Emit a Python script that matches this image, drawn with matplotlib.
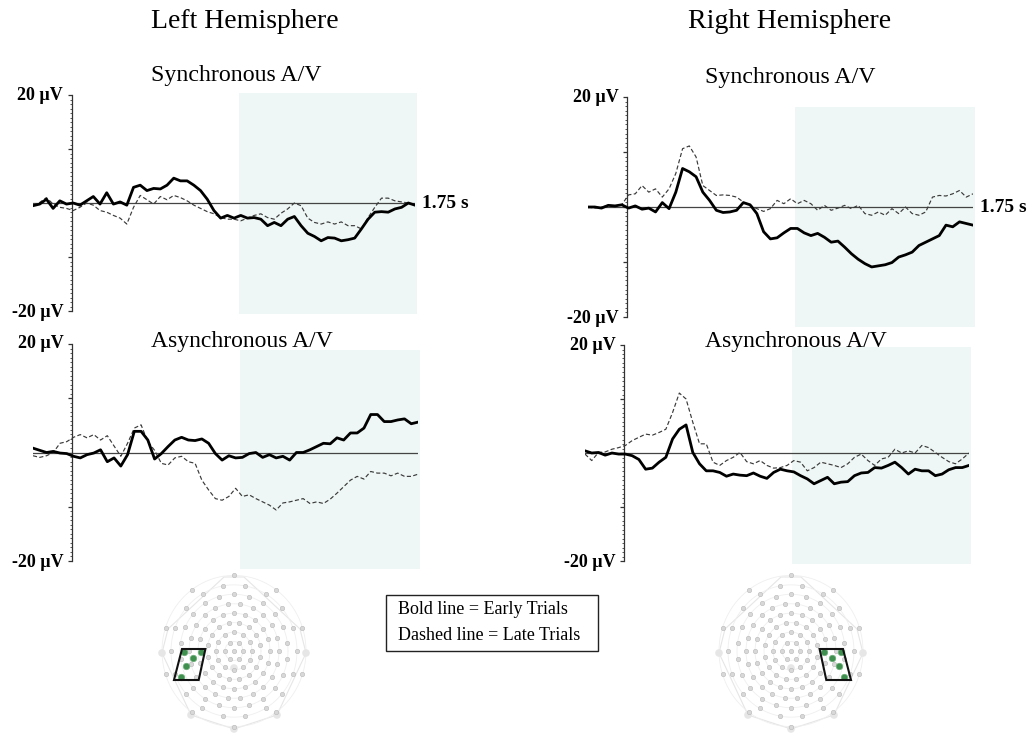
import numpy as np
import matplotlib
matplotlib.use("Agg")
import matplotlib.pyplot as plt
from matplotlib.patches import Rectangle, Polygon
from matplotlib.ticker import MultipleLocator

plt.rcParams['font.family'] = ['Liberation Serif', 'DejaVu Serif']

W, H = 1029, 733

# time axis in seconds, -200 ms baseline to 1.75 s
times = np.linspace(-0.2, 1.75, 58)

# left hemisphere, synchronous A/V (uV)
tl_early = [-0.5, -0.2, 0.7, -1.0, 0.4, -0.2, 0.0, -0.4, 0.4, 1.2,
            -0.2, 1.9, -0.2, 0.2, -0.4, 2.9, 3.3, 2.3, 2.7, 2.6,
            3.3, 4.6, 4.1, 4.1, 3.3, 2.3, 0.7, -1.4, -2.8, -2.3,
            -2.8, -2.3, -2.8, -2.7, -3.0, -4.2, -3.6, -4.2, -3.0, -2.5,
            -4.2, -5.6, -6.2, -7.0, -6.4, -6.5, -7.0, -6.8, -6.5, -4.8,
            -3.0, -1.7, -1.6, -1.7, -1.1, -0.8, 0.0, -0.4]
tl_late = [-0.4, 0.1, 1.0, -0.2, -0.8, -1.0, -1.4, -0.8, 0.0, -0.4,
           -1.4, -1.7, -2.3, -2.8, -3.9, -0.8, 1.4, 0.6, -0.2, 1.2,
           0.6, 1.4, 1.0, 0.4, -0.4, -1.0, -1.6, -2.0, -2.7, -3.0,
           -3.0, -3.3, -2.8, -2.3, -2.0, -2.7, -3.0, -1.9, -1.1, 0.0,
           -0.5, -2.8, -3.6, -3.9, -3.5, -3.9, -3.5, -4.2, -4.2, -4.8,
           -2.7, -0.8, 0.9, 0.9, 0.4, 0.2, 0.0, -0.4]

# right hemisphere, synchronous A/V
tr_early = [0.0, 0.0, -0.2, 0.3, 0.2, 0.4, -0.2, 0.2, -0.4, -0.2,
            -0.9, 0.8, -0.3, 2.7, 7.0, 6.4, 5.5, 2.7, 1.2, -0.6,
            -1.0, -0.9, -0.6, 0.8, 0.4, -1.2, -4.5, -5.8, -5.6, -4.7,
            -3.9, -3.9, -4.7, -5.2, -4.8, -5.5, -6.4, -6.2, -7.3, -8.5,
            -9.5, -10.3, -10.9, -10.7, -10.5, -10.1, -9.1, -8.7, -8.2, -7.0,
            -6.4, -5.8, -5.2, -3.3, -3.6, -2.7, -3.0, -3.3]
tr_late = [0.0, -0.2, 0.0, 0.3, 0.0, 0.4, 2.2, 2.4, 3.9, 2.7,
           3.3, 1.8, 3.3, 6.1, 10.6, 11.1, 9.1, 3.9, 3.0, 2.1,
           2.2, 2.1, 1.8, 0.9, 0.3, -0.3, -0.8, -0.3, 1.2, 0.6,
           1.5, 0.6, 1.2, 0.6, -0.6, 0.3, -0.6, -0.2, 0.3, -0.3,
           0.3, -1.2, -1.5, -0.9, -1.5, -0.3, -1.2, 0.0, -1.2, -1.5,
           -0.9, 1.8, 2.1, 2.0, 2.4, 3.0, 1.8, 2.4]

# left hemisphere, asynchronous A/V
bl_early = [0.8, 0.4, 0.0, 0.2, -0.1, -0.2, -0.7, -1.0, -0.4, -0.1,
            0.5, -1.7, -1.0, -2.5, -0.4, 3.9, 3.9, 2.3, -1.2, -0.2,
            1.1, 2.3, 2.8, 2.3, 2.2, 2.5, 1.7, -0.2, -1.4, -0.6,
            -1.0, -0.9, -0.2, 0.0, -0.9, -0.4, -1.0, -0.7, -1.4, 0.0,
            0.0, 0.5, 1.1, 1.7, 1.6, 2.7, 2.3, 3.6, 3.6, 4.5,
            7.0, 7.0, 5.7, 5.7, 6.0, 6.2, 5.3, 5.6]
bl_late = [-0.6, -0.9, -0.6, 0.0, 1.7, 2.0, 2.8, 3.3, 2.7, 3.3,
           2.3, 3.1, 1.2, -0.7, 1.7, 4.5, 5.1, 2.0, 0.4, -2.0,
           -2.3, -1.0, -0.7, -1.7, -2.0, -5.1, -6.9, -8.5, -8.8, -8.1,
           -6.6, -8.1, -7.8, -8.5, -9.1, -9.7, -10.6, -9.3, -9.1, -8.8,
           -8.5, -9.4, -9.1, -9.4, -8.6, -7.5, -6.3, -5.1, -4.4, -4.9,
           -3.5, -3.8, -3.8, -4.3, -3.8, -4.4, -4.4, -4.0]

# right hemisphere, asynchronous A/V
br_early = [0.4, 0.0, 0.1, -0.4, 0.0, -0.2, -0.2, -0.5, -1.2, -3.0,
            -2.8, -1.7, -0.8, 2.6, 4.4, 5.2, 0.1, -2.0, -3.3, -3.3,
            -3.6, -4.3, -3.9, -4.1, -4.2, -3.7, -4.3, -4.7, -3.6, -3.0,
            -3.3, -3.5, -4.2, -4.8, -5.7, -5.1, -4.5, -5.7, -5.4, -5.3,
            -4.2, -3.7, -3.6, -2.7, -2.8, -2.3, -1.7, -2.7, -3.9, -3.0,
            -3.3, -3.3, -4.2, -3.9, -3.1, -2.7, -2.7, -2.3]
br_late = [-0.2, -1.4, 0.1, 0.2, 0.7, 1.0, 1.4, 2.3, 2.9, 3.5,
           3.3, 3.8, 4.4, 7.5, 11.1, 10.0, 5.7, 1.7, 1.7, -1.7,
           -2.3, -1.4, -0.8, 0.1, -1.6, -2.0, -1.4, -2.3, -2.8, -2.7,
           -2.3, -1.4, -1.7, -3.3, -2.7, -1.7, -2.0, -2.3, -2.7, -2.0,
           -0.8, -0.2, -1.4, -2.3, -1.1, -0.8, 0.7, 0.0, 0.4, 0.0,
           1.4, 1.0, 0.1, -0.8, -1.6, -2.0, -1.1, 0.0]

# analysis window (s) and its vertical extent (uV) per panel
window = (0.85, 1.76)
window_v = {"tl": (-20.5, 20.3), "tr": (-21.8, 18.2),
            "bl": (-21.5, 18.9), "br": (-20.6, 19.6)}

# selected electrode cluster (left hemisphere, offsets from Cz in px)
cluster = [(-50, -1), (-33, -1), (-41, -7), (-48, -15), (-53, -26)]
cluster_box = [(-52, 2), (-28.6, 2), (-35.3, -29), (-60, -29)]
ring_counts = [1, 6, 12, 16, 20, 22, 22, 18, 10]

fig = plt.figure(figsize=(W / 100, H / 100), dpi=100)


def px_axes(x0, x1, ytop, ybot):
    return fig.add_axes([x0 / W, 1 - ybot / H, (x1 - x0) / W, (ybot - ytop) / H])


def erp_panel(box, key, early, late, show_end):
    ax = px_axes(*box)
    ax.set_xlim(-0.2, 1.75)
    ax.set_ylim(-20, 20)
    ax.patch.set_visible(False)
    for s in ["top", "right", "bottom"]:
        ax.spines[s].set_visible(False)
    ax.spines["left"].set_position(("data", 0))
    ax.spines["left"].set_color("#333333")
    ax.spines["left"].set_linewidth(0.9)
    ax.set_xticks([])
    ax.set_yticks([-20, -10, 0, 10, 20])
    ax.yaxis.set_minor_locator(MultipleLocator(10 / 12))
    ax.tick_params(axis="y", which="major", length=3, width=0.9, color="#333333", labelleft=False)
    ax.tick_params(axis="y", which="minor", length=1.5, width=0.7, color="#555555")

    v0, v1 = window_v[key]
    ax.add_patch(Rectangle((window[0], v0), window[1] - window[0], v1 - v0,
                           facecolor="#eef7f5", edgecolor="none", zorder=0, clip_on=False))
    ax.plot([-0.2, 1.75], [0, 0], color="#444444", lw=0.9, zorder=2)
    ax.plot(times, late, color="#3a3a3a", lw=0.85, ls=(0, (3.5, 2)), zorder=3)
    ax.plot(times, early, color="black", lw=2.0, zorder=4, solid_joinstyle="round")

    lab = dict(textcoords="offset points", ha="right", va="center",
               fontsize=13, fontweight="bold")
    ax.annotate("20 µV", xy=(0, 20), xytext=(-6.5, 0), **lab)
    ax.annotate("-20 µV", xy=(0, -20), xytext=(-6.5, -1), **lab)
    if show_end:
        ax.annotate("1.75 s", xy=(1.75, 0), xytext=(5, 0), textcoords="offset points",
                    ha="left", va="center", fontsize=14, fontweight="bold")
    return ax


erp_panel((33, 415, 95, 311), "tl", tl_early, tl_late, True)
erp_panel((588, 973, 97, 317), "tr", tr_early, tr_late, True)
erp_panel((33, 418, 344, 561), "bl", bl_early, bl_late, False)
erp_panel((585, 969, 345, 561), "br", br_early, br_late, False)

fig.text(151 / W, 1 - 21 / H, "Left Hemisphere", ha="left", va="center", fontsize=20)
fig.text(688 / W, 1 - 21 / H, "Right Hemisphere", ha="left", va="center", fontsize=20)
fig.text(151 / W, 1 - 76 / H, "Synchronous A/V", ha="left", va="center", fontsize=17.2)
fig.text(705 / W, 1 - 78 / H, "Synchronous A/V", ha="left", va="center", fontsize=17.2)
fig.text(151 / W, 1 - 342 / H, "Asynchronous A/V", ha="left", va="center", fontsize=17)
fig.text(705 / W, 1 - 342 / H, "Asynchronous A/V", ha="left", va="center", fontsize=17)

# legend box
fig.patches.append(Rectangle((386 / W, 1 - 651 / H), 212 / W, 56 / H, transform=fig.transFigure,
                             facecolor="white", edgecolor="#222222", lw=1.0))
fig.text(398 / W, 1 - 610 / H, "Bold line = Early Trials", ha="left", va="center", fontsize=13)
fig.text(398 / W, 1 - 636 / H, "Dashed line = Late Trials", ha="left", va="center", fontsize=13)


def head_map(cx, cy, mirror):
    ax = px_axes(cx - 85, cx + 85, cy - 85, cy + 85)
    ax.set_xlim(-85, 85)
    ax.set_ylim(-85, 85)
    ax.axis("off")
    sgn = -1 if mirror else 1
    outline = [(-10, 74), (10, 74), (66, 22), (72, -2), (43, -64), (0, -78),
               (-43, -64), (-72, -2), (-66, 22)]
    ax.add_patch(Polygon(outline, closed=True, fill=False, edgecolor="#e6e6e6", lw=0.8))
    green = [(sgn * x, y) for x, y in cluster]
    pts = []
    for i, n in enumerate(ring_counts):
        r = 9.0 * i
        if i > 0:
            th = np.linspace(0, 2 * np.pi, 200)
            ax.plot(r * np.cos(th), 1.05 * r * np.sin(th), color="#efefef", lw=0.6, zorder=1)
        for j in range(n):
            a = 2 * np.pi * (j + 0.5 * (i % 2)) / n + np.pi / 2
            x, y = r * np.cos(a), 1.05 * r * np.sin(a)
            if min(np.hypot(x - gx, y - gy) for gx, gy in green) > 5:
                pts.append((x, y))
    pts = np.array(pts)
    ax.scatter(pts[:, 0], pts[:, 1], s=10, facecolor="#d8d8d8", edgecolor="#b8b8b8",
               linewidths=0.4, zorder=2)
    big = [(-72, -2), (72, -2), (-43, -64), (43, -64), (0, -78), (0, -17)]
    ax.scatter([b[0] for b in big], [b[1] for b in big], s=30, facecolor="#e6e6e6",
               edgecolor="none", zorder=1)
    ax.scatter([g[0] for g in green], [g[1] for g in green], s=22, facecolor="#3f8f4f",
               edgecolor="#6fb07a", linewidths=0.5, zorder=3)
    ax.add_patch(Polygon([(sgn * x, y) for x, y in cluster_box], closed=True, fill=False,
                         edgecolor="#111111", lw=1.5, zorder=4))


head_map(234, 651, False)
head_map(791, 651, True)

fig.savefig("out.png", dpi=100)
